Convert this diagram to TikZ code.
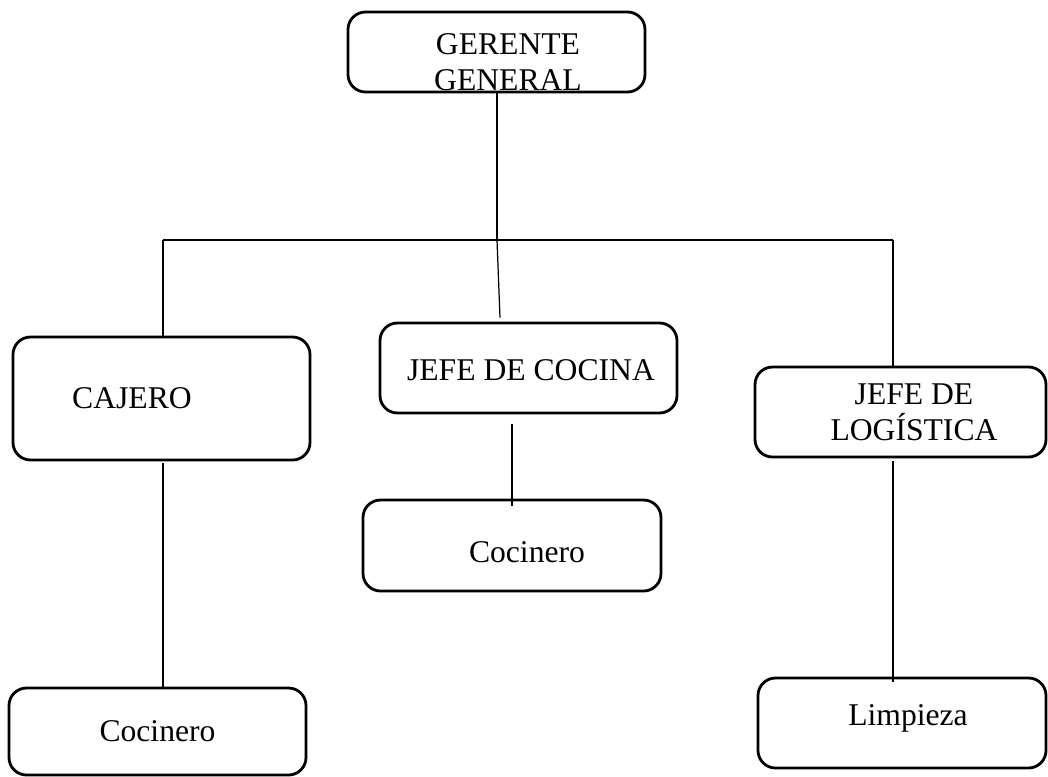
\documentclass[tikz,border=0pt]{standalone}
\usepackage{fontspec}
\setmainfont{Liberation Serif}
\usepackage{tikz}
\usetikzlibrary{calc,positioning}

\begin{document}
\begin{tikzpicture}[
    every node/.style={font=\fontsize{18}{20.5}\selectfont,align=center},
    caja/.style={
        rounded corners=0.35cm,
        draw=black,
        line width=1.6pt,
        minimum width=5.94cm,
        minimum height=1.8cm,
        inner sep=0pt
    },
    texto/.style={inner sep=0pt},
    linea/.style={line width=1.4pt},
    fina/.style={line width=0.7pt}
]
\useasboundingbox (0,0) rectangle (20.96,-15.52);

% Puestos
\node[caja, minimum height=1.6cm,
    label={[texto,xshift=0.23cm,yshift=-0.2cm]center:GERENTE\\GENERAL}]
    (gerente) at (9.93,-1.04) {};

\node[caja, minimum height=2.46cm,
    label={[texto,xshift=-0.59cm]center:CAJERO}]
    (cajero) at (3.23,-7.97) {};

\node[caja,
    label={[texto,xshift=0.05cm,yshift=-0.04cm]center:JEFE DE COCINA}]
    (cocina) at (10.57,-7.36) {};

\node[caja, minimum width=5.82cm,
    label={[texto,xshift=0.27cm]center:JEFE DE\\LOGÍSTICA}]
    (logistica) at (18.01,-8.24) {};

\node[caja, minimum width=5.96cm, minimum height=1.82cm,
    label={[texto,xshift=0.3cm,yshift=-0.13cm]center:Cocinero}]
    (cocinero2) at (10.24,-10.91) {};

\node[caja, minimum height=1.74cm,
    label={[texto]center:Cocinero}]
    (cocinero1) at (3.15,-14.63) {};

\node[caja, minimum width=5.76cm,
    label={[texto,xshift=0.12cm,yshift=0.1cm]center:Limpieza}]
    (limpieza) at (18.04,-14.46) {};

% Puntos de la barra
\coordinate (centro) at (9.94,-4.8);
\coordinate (izq) at (3.26,-4.8);
\coordinate (der) at (17.86,-4.8);

% Lineas
\draw[linea] (gerente.south -| centro) -- (centro);
\draw[linea] (izq) -- (der);
\draw[linea] (izq) -- (izq |- cajero.north);
\draw[fina] (centro) -- ([xshift=0.06cm,yshift=0.08cm]cocina.north -| centro);
\draw[linea] (der) -- (der |- logistica.north);
\draw[linea] ([yshift=-0.04cm]cajero.south -| izq) -- (cocinero1.north -| izq);
\draw[fina] ([yshift=-0.2cm]cocina.south -| cocinero2.north) -- ([yshift=-0.14cm]cocinero2.north);
\draw[linea] ([yshift=-0.06cm]logistica.south -| der) -- ([yshift=-0.1cm]limpieza.north -| der);

\end{tikzpicture}
\end{document}
